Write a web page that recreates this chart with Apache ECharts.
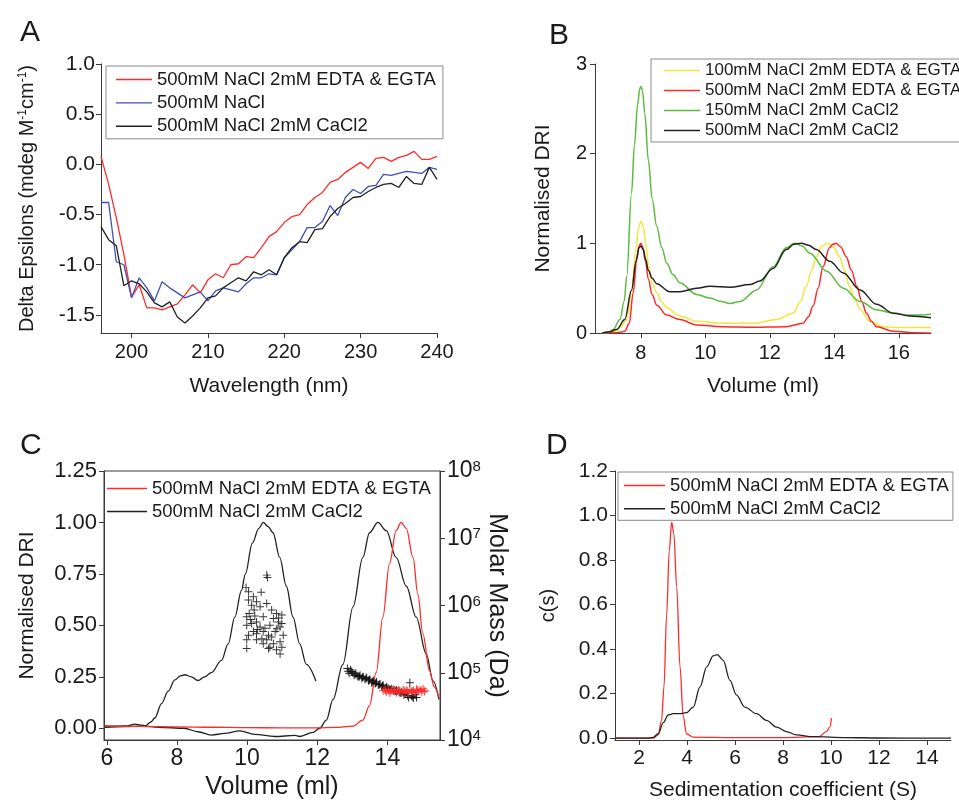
<!DOCTYPE html>
<html><head><meta charset="utf-8">
<script src="https://cdn.jsdelivr.net/npm/echarts@6/dist/echarts.min.js"></script>
<style>html,body{margin:0;padding:0;background:#fff}#c{width:959px;height:802px}</style>
</head><body><div id="c"></div>
<script>
// ---------- Panel A (CD spectra) ----------
const aWavelength = [196,197,198,199,200,201,202,203,204,205,206,207,208,209,210,211,212,213,214,215,216,217,218,219,220,221,222,223,224,225,226,227,228,229,230,231,232,233,234,235,236,237,238,239,240];
const aEdta  = [0.08,-0.2,-0.53,-0.9,-1.32,-1.2,-1.43,-1.43,-1.45,-1.42,-1.39,-1.30,-1.2,-1.28,-1.15,-1.09,-1.13,-1.0,-0.99,-0.92,-0.93,-0.83,-0.72,-0.67,-0.58,-0.52,-0.50,-0.40,-0.33,-0.28,-0.18,-0.15,-0.08,-0.03,0.02,-0.04,0.06,0.07,0.03,0.07,0.09,0.13,0.05,0.05,0.08];
const aNacl  = [-0.38,-0.38,-0.97,-1.0,-1.33,-1.13,-1.23,-1.36,-1.17,-1.23,-1.28,-1.33,-1.3,-1.27,-1.36,-1.26,-1.23,-1.25,-1.27,-1.19,-1.13,-1.13,-1.09,-1.1,-0.93,-0.85,-0.77,-0.63,-0.63,-0.57,-0.41,-0.51,-0.33,-0.25,-0.29,-0.22,-0.21,-0.10,-0.11,-0.09,-0.07,-0.08,-0.09,-0.03,-0.05];
const aCacl2 = [-0.62,-0.75,-0.81,-1.21,-1.16,-1.19,-1.27,-1.38,-1.42,-1.37,-1.52,-1.58,-1.51,-1.43,-1.33,-1.31,-1.23,-1.18,-1.13,-1.16,-1.07,-1.1,-1.05,-1.1,-0.93,-0.83,-0.77,-0.78,-0.65,-0.64,-0.52,-0.44,-0.39,-0.33,-0.32,-0.27,-0.23,-0.20,-0.19,-0.23,-0.12,-0.19,-0.20,-0.03,-0.15];
const aXTicks = [200,210,220,230,240];
const aYTicks = [-1.5,-1.0,-0.5,0.0,0.5,1.0];

// ---------- Panel B (SEC DRI) ----------
const bYellow = [[6.8,0],[7.0,0.005],[7.2,0.02],[7.35,0.06],[7.56,0.15],[7.71,0.45],[7.85,0.95],[7.93,1.18],[8.0,1.245],[8.07,1.19],[8.15,1.0],[8.23,0.77],[8.35,0.56],[8.49,0.45],[8.65,0.34],[8.8,0.28],[9.21,0.19],[9.73,0.13],[10.54,0.11],[11.58,0.11],[12.2,0.15],[12.72,0.22],[12.95,0.35],[13.13,0.52],[13.3,0.7],[13.44,0.85],[13.62,0.97],[13.8,1.0],[13.97,0.96],[14.16,0.85],[14.32,0.7],[14.47,0.52],[14.63,0.37],[14.8,0.26],[15.1,0.13],[15.52,0.07],[16.0,0.06],[17.0,0.06]];
const bRed = [[6.8,0],[7.2,0.003],[7.4,0.01],[7.5,0.02],[7.64,0.11],[7.76,0.45],[7.88,0.85],[7.94,0.97],[8.0,1.0],[8.06,0.96],[8.14,0.8],[8.23,0.6],[8.35,0.43],[8.49,0.31],[8.8,0.2],[9.21,0.15],[9.73,0.09],[10.54,0.07],[11.5,0.065],[12.5,0.07],[13.03,0.11],[13.2,0.18],[13.34,0.30],[13.5,0.5],[13.65,0.74],[13.85,0.95],[13.96,0.99],[14.06,1.0],[14.2,0.96],[14.37,0.85],[14.53,0.7],[14.7,0.52],[14.85,0.35],[15.0,0.22],[15.15,0.13],[15.31,0.07],[15.83,0.02],[16.5,0.003],[17.0,0.0]];
const bGreen = [[6.8,0],[7.0,0.01],[7.14,0.04],[7.35,0.15],[7.48,0.35],[7.56,0.63],[7.71,1.56],[7.8,2.1],[7.9,2.55],[7.96,2.72],[8.0,2.75],[8.05,2.7],[8.12,2.45],[8.23,1.93],[8.35,1.5],[8.49,1.19],[8.65,0.95],[8.8,0.78],[9.0,0.65],[9.21,0.56],[9.73,0.43],[10.14,0.39],[10.5,0.35],[10.76,0.33],[11.07,0.35],[11.59,0.48],[12.1,0.74],[12.51,0.95],[12.77,1.0],[13.0,0.97],[13.24,0.89],[13.76,0.69],[14.28,0.50],[14.8,0.35],[15.31,0.26],[15.83,0.22],[16.34,0.20],[17.0,0.21]];
const bBlack = [[6.8,0],[7.0,0.01],[7.25,0.04],[7.5,0.15],[7.71,0.48],[7.85,0.8],[7.94,0.95],[8.0,0.97],[8.07,0.93],[8.15,0.82],[8.23,0.70],[8.35,0.61],[8.49,0.55],[8.9,0.46],[9.21,0.46],[9.73,0.50],[10.14,0.52],[10.76,0.51],[11.38,0.54],[11.69,0.58],[12.1,0.72],[12.51,0.93],[12.75,0.99],[12.98,1.0],[13.2,0.98],[13.44,0.93],[13.86,0.80],[14.28,0.67],[14.8,0.48],[15.31,0.32],[15.83,0.22],[16.34,0.19],[17.0,0.17]];
const bXTicks = [8,10,12,14,16];
const bYTicks = [0,1,2,3];

// ---------- Panel C (SEC-MALLS) ----------
const cBlackHump = [[5.95,0.012],[6.3,0.01],[6.6,0.012],[6.8,0.02],[7.0,0.015],[7.1,0.012],[7.25,0.03],[7.37,0.05],[7.56,0.12],[7.75,0.18],[7.94,0.235],[8.1,0.255],[8.22,0.26],[8.41,0.25],[8.6,0.232],[8.79,0.25],[8.98,0.27],[9.27,0.33],[9.46,0.41],[9.65,0.54],[9.84,0.67],[9.95,0.75],[10.15,0.9],[10.33,0.97],[10.46,1.0],[10.6,0.98],[10.74,0.95],[10.93,0.83],[11.12,0.69],[11.31,0.54],[11.5,0.41],[11.69,0.31],[11.96,0.23]];
const cBlackMain = [[5.95,0.005],[6.5,0.008],[7.0,0.01],[7.5,0.005],[8.2,0.0],[8.6,-0.017],[8.98,-0.033],[9.36,-0.025],[9.79,-0.013],[10.22,-0.03],[10.79,-0.04],[11.36,-0.035],[11.5,-0.04],[11.88,-0.02],[12.07,0.0],[12.26,0.04],[12.45,0.14],[12.73,0.31],[13.02,0.59],[13.3,0.83],[13.49,0.95],[13.73,1.0],[13.97,0.96],[14.25,0.83],[14.54,0.69],[14.82,0.54],[15.11,0.36],[15.3,0.23],[15.47,0.14]];
const cRed = [[5.95,0.01],[7.0,0.009],[8.0,0.007],[9.0,0.005],[10.0,0.003],[11.0,0.002],[12.0,0.002],[12.5,0.004],[13.02,0.01],[13.3,0.04],[13.49,0.11],[13.68,0.27],[13.87,0.54],[14.06,0.80],[14.25,0.96],[14.39,1.0],[14.54,0.97],[14.73,0.83],[14.87,0.65],[15.01,0.46],[15.2,0.28],[15.34,0.2],[15.47,0.15]];
const cMassHump = [[10.56,2.83e6],[10.58,2.61e6],[9.97,1.86e6],[10.04,1.60e6],[10.40,1.57e6],[10.18,1.35e6],[10.04,1.21e6],[10.27,1.14e6],[10.13,1.01e6],[10.56,1.07e6],[10.37,9.6e5],[10.70,8.6e5],[10.20,8.6e5],[10.06,7.6e5],[10.84,7.6e5],[10.99,7.2e5],[9.99,6.8e5],[10.46,6.8e5],[10.75,6.4e5],[10.89,5.7e5],[10.27,5.7e5],[10.13,5.4e5],[9.99,5.1e5],[10.65,5.1e5],[10.99,5.4e5],[10.94,4.8e5],[10.37,4.8e5],[10.51,4.6e5],[10.18,4.1e5],[10.27,3.8e5],[10.46,4.1e5],[10.80,4.1e5],[10.04,3.6e5],[10.61,3.6e5],[10.70,3.4e5],[10.42,3.2e5],[10.56,3.1e5],[11.03,3.6e5],[10.94,2.9e5],[10.27,3.1e5],[9.99,3.1e5],[10.75,2.7e5],[10.65,2.4e5],[10.46,2.7e5],[10.99,2.4e5],[10.84,2.2e5],[9.99,2.3e5],[10.94,1.9e5],[10.61,2.3e5],[10.1,6.2e5],[10.22,7.0e5],[10.85,4.5e5],[10.3,4.4e5],[10.9,6.5e5]];
const cMassBlack = [[12.86,1.16e5],[12.91,9.8e4],[12.95,1.10e5],[13.01,1.00e5],[13.05,9.2e4],[13.10,9.8e4],[13.17,8.7e4],[13.22,9.2e4],[13.27,8.3e4],[13.31,8.7e4],[13.36,8.0e4],[13.41,8.5e4],[13.46,7.6e4],[13.50,8.0e4],[13.55,7.1e4],[13.60,7.6e4],[13.65,6.9e4],[13.69,7.3e4],[13.74,6.6e4],[13.79,6.8e4],[13.84,6.2e4],[13.88,6.5e4],[13.93,5.9e4],[13.98,6.2e4],[14.05,5.7e4],[14.12,5.8e4],[14.19,5.4e4],[14.26,5.5e4],[14.34,5.1e4],[14.41,5.2e4],[14.47,4.7e4],[14.53,4.9e4],[14.60,4.3e4],[14.64,7.1e4],[14.69,4.5e4],[14.74,4.2e4],[14.79,4.7e4],[14.83,4.3e4],[12.88,1.05e5],[12.98,1.04e5],[13.08,9.5e4],[13.14,9.0e4],[13.20,8.8e4],[13.29,8.6e4],[13.39,8.2e4],[13.48,7.8e4],[13.58,7.4e4],[13.67,7.0e4],[13.77,6.7e4],[13.86,6.4e4],[13.96,6.0e4],[14.02,5.9e4],[14.09,5.6e4],[14.16,5.6e4],[14.23,5.3e4],[14.30,5.3e4],[14.38,5.0e4],[14.50,4.8e4],[14.57,4.6e4],[14.72,4.4e4]];
const cMassRed = [[13.88,5.4e4],[13.93,5.7e4],[13.98,5.2e4],[14.03,5.5e4],[14.07,5.0e4],[14.12,5.7e4],[14.17,5.3e4],[14.22,5.5e4],[14.26,5.1e4],[14.31,5.6e4],[14.36,5.3e4],[14.41,5.0e4],[14.45,5.6e4],[14.50,5.2e4],[14.55,5.5e4],[14.60,5.0e4],[14.64,5.6e4],[14.69,5.3e4],[14.74,5.5e4],[14.79,5.1e4],[14.83,5.7e4],[14.88,5.3e4],[14.93,5.5e4],[14.98,5.2e4],[15.02,5.8e4],[15.07,5.4e4],[13.95,5.4e4],[14.10,5.3e4],[14.20,5.6e4],[14.34,5.4e4],[14.48,5.4e4],[14.58,5.3e4],[14.72,5.2e4],[14.86,5.5e4],[14.96,5.6e4],[15.05,5.2e4]];
const cXTicks = [6,8,10,12,14];
const cYTicks = [0,0.25,0.5,0.75,1.0,1.25];
const cMassTicks = [1e4,1e5,1e6,1e7,1e8];

// ---------- Panel D (AUC c(s)) ----------
const dRed = [[1,0],[2.59,0],[2.8,0.015],[2.94,0.08],[3.04,0.23],[3.15,0.55],[3.26,0.84],[3.36,0.97],[3.45,0.92],[3.57,0.68],[3.71,0.32],[3.84,0.10],[3.98,0.02],[4.26,0.005],[6,0.003],[8,0.003],[9.5,0.007],[9.81,0.03],[9.95,0.05],[10.02,0.09]];
const dBlack = [[1,0],[2.32,0],[2.59,0.004],[2.8,0.02],[3.01,0.07],[3.22,0.105],[3.43,0.11],[3.71,0.11],[3.98,0.115],[4.26,0.14],[4.54,0.23],[4.82,0.32],[5.09,0.37],[5.26,0.375],[5.51,0.35],[5.79,0.26],[6.06,0.195],[6.41,0.14],[6.9,0.11],[7.31,0.08],[7.73,0.05],[8.14,0.03],[8.56,0.015],[9.25,0.007],[10.64,0.003],[12.03,0.001],[15,0]];
const dXTicks = [2,4,6,8,10,12,14];
const dYTicks = [0,0.2,0.4,0.6,0.8,1.0,1.2];

const L_EDTA500 = '500mM NaCl 2mM EDTA & EGTA';
const L_NACL = '500mM NaCl';
const L_CACL500 = '500mM NaCl 2mM CaCl2';
const L_EDTA100 = '100mM NaCl 2mM EDTA & EGTA';
const L_CACL150 = '150mM NaCl 2mM CaCl2';

const FONT = '"Liberation Sans", Arial, Helvetica, sans-serif';
const INK = '#1a1a1a';
const AX = '#3a3a3a';
const RED = '#ff2a2a', BLUE = '#3f4fb8', BLACK = '#222222', YELLOW = '#efe83c', GREEN = '#5cba3e';

function axis(o) {
  const a = {
    type: o.type || 'value', gridIndex: o.grid, min: o.min, max: o.max,
    position: o.position,
    axisLine: {show: true, onZero: false, lineStyle: {color: AX, width: 1}},
    axisTick: {show: true, inside: false, length: o.tickLen || 5, customValues: o.ticks, lineStyle: {color: AX, width: 1}},
    axisLabel: {show: true, customValues: o.ticks, fontSize: o.fs, color: INK, fontFamily: FONT, margin: o.margin, formatter: o.fmt, rich: o.rich},
    splitLine: {show: false},
    name: o.name, nameLocation: 'middle', nameGap: o.gap, nameRotate: o.nameRotate,
    nameTextStyle: {fontSize: o.nfs, color: INK, fontFamily: FONT, rich: o.nrich}
  };
  if (o.logBase) a.logBase = o.logBase;
  return a;
}

const GRID = (l, t) => ({left: l, top: t, width: 336, height: 269, outerBoundsMode: 'none', containLabel: false});
const line = (name, data, color, xi, yi, smooth, w) => ({
  type: 'line', name, data, xAxisIndex: xi, yAxisIndex: yi, symbol: 'none', showSymbol: false,
  smooth: smooth ? 0.35 : false, smoothMonotone: smooth ? 'x' : undefined,
  lineStyle: {color, width: w || 1.3}, itemStyle: {color}, silent: true, animation: false, z: 3
});
const PLUS = 'path://M4.4,0H5.6V4.4H10V5.6H5.6V10H4.4V5.6H0V4.4H4.4Z';
const scatter = (data, color) => ({
  type: 'scatter', name: 'mass', data, xAxisIndex: 2, yAxisIndex: 3, symbol: PLUS, symbolSize: 8,
  itemStyle: {color, opacity: 0.9}, silent: true, animation: false, z: 4
});
const legend = (names, left, top, o) => Object.assign({
  data: names, left, top, orient: 'vertical', icon: 'rect', itemWidth: 36, itemHeight: 1.4, itemGap: 4,
  selectedMode: false, backgroundColor: '#fff',
  textStyle: {fontSize: 18.5, color: INK, fontFamily: FONT, lineHeight: 18}
}, o);

const chart = echarts.init(document.getElementById('c'), null, {renderer: 'canvas'});
const f1 = v => Number(v).toFixed(1), f2 = v => Number(v).toFixed(2), f0 = v => String(Math.round(v));

chart.setOption({
  backgroundColor: '#ffffff',
  animation: false,
  textStyle: {fontFamily: FONT},
  grid: [GRID(101, 64), GRID(595, 64),
         Object.assign(GRID(104, 471), {show: true, borderColor: AX, borderWidth: 1, backgroundColor: 'transparent'}),
         GRID(615, 471)],
  xAxis: [
    axis({grid: 0, min: 196, max: 240, ticks: aXTicks, fs: 20, margin: 9, fmt: f0, name: 'Wavelength (nm)', gap: 43, nfs: 21}),
    axis({grid: 1, min: 6.576, max: 17, ticks: bXTicks, fs: 20, margin: 10, fmt: f0, name: 'Volume (ml)', gap: 43, nfs: 21}),
    axis({grid: 2, min: 5.92, max: 15.5, ticks: cXTicks, fs: 23, margin: 7, fmt: f0, name: 'Volume (ml)', gap: 35, nfs: 25}),
    axis({grid: 3, min: 1, max: 15, ticks: dXTicks, fs: 21, margin: 8, fmt: f0, name: 'Sedimentation coefficient (S)', gap: 40, nfs: 21})
  ],
  yAxis: [
    axis({grid: 0, min: -1.68, max: 1.0, ticks: aYTicks, fs: 21, margin: 6, fmt: f1,
          name: 'Delta Epsilons (mdeg M{s|-1}cm{s|-1})', gap: 64, nfs: 20,
          nrich: {s: {fontSize: 12, verticalAlign: 'top', fontFamily: FONT, color: INK}}}),
    axis({grid: 1, min: 0, max: 3, ticks: bYTicks, fs: 20, margin: 8, fmt: f0, name: 'Normalised DRI', gap: 41, nfs: 21}),
    axis({grid: 2, min: -0.057, max: 1.25, ticks: cYTicks, fs: 22, margin: 7, fmt: f2, name: 'Normalised DRI', gap: 66, nfs: 21}),
    axis({grid: 2, type: 'log', logBase: 10, min: 1e4, max: 1e8, position: 'right', ticks: cMassTicks, fs: 23, margin: 7,
          fmt: v => '10{s|' + Math.round(Math.log10(v)) + '}',
          rich: {s: {fontSize: 15, verticalAlign: 'top', fontFamily: FONT, color: INK}},
          name: 'Molar Mass (Da)', gap: 42, nfs: 25, nameRotate: -90}),
    axis({grid: 3, min: -0.008, max: 1.2, ticks: dYTicks, fs: 21, margin: 7, fmt: f1, name: 'c(s)', gap: 57, nfs: 20})
  ],
  legend: [
    legend([L_EDTA500, L_NACL, L_CACL500], 106, 66, {padding: [4, 7, 3, 10], itemGap: 4.4, borderColor: '#8a8a8a', borderWidth: 1}),
    legend([L_EDTA100, L_EDTA500, L_CACL150, L_CACL500], 651, 59, {padding: [3, 2, 3, 13], itemGap: 3, borderColor: '#8a8a8a', borderWidth: 1, textStyle: {fontSize: 17, lineHeight: 17, color: INK, fontFamily: FONT}}),
    legend([L_EDTA500, L_CACL500], 107, 479, {padding: 0, itemGap: 4, itemWidth: 40, backgroundColor: 'transparent'}),
    legend([L_EDTA500, L_CACL500], 618, 472, {padding: [4, 4, 2, 6], itemGap: 4.3, itemWidth: 41, borderColor: '#8a8a8a', borderWidth: 1})
  ],
  graphic: [
    {type: 'text', left: 20, top: 18, style: {text: 'A', fontSize: 30, fill: INK, fontFamily: FONT}},
    {type: 'text', left: 549, top: 21, style: {text: 'B', fontSize: 30, fill: INK, fontFamily: FONT}},
    {type: 'text', left: 20, top: 431, style: {text: 'C', fontSize: 30, fill: INK, fontFamily: FONT}},
    {type: 'text', left: 546, top: 431, style: {text: 'D', fontSize: 30, fill: INK, fontFamily: FONT}}
  ],
  series: [
    line(L_EDTA500, aWavelength.map((w, i) => [w, aEdta[i]]), RED, 0, 0, false, 1.3),
    line(L_NACL, aWavelength.map((w, i) => [w, aNacl[i]]), BLUE, 0, 0, false, 1.3),
    line(L_CACL500, aWavelength.map((w, i) => [w, aCacl2[i]]), BLACK, 0, 0, false, 1.3),

    line(L_EDTA100, bYellow, YELLOW, 1, 1, true, 1.5),
    line(L_EDTA500, bRed, RED, 1, 1, true, 1.5),
    line(L_CACL150, bGreen, GREEN, 1, 1, true, 1.5),
    line(L_CACL500, bBlack, BLACK, 1, 1, true, 1.5),

    line(L_CACL500, cBlackHump, BLACK, 2, 2, true, 1.3),
    line(L_CACL500, cBlackMain, BLACK, 2, 2, true, 1.3),
    line(L_EDTA500, cRed, RED, 2, 2, true, 1.3),
    scatter(cMassHump, '#222'),
    scatter(cMassBlack, '#111'),
    scatter(cMassRed, RED),

    line(L_EDTA500, dRed, RED, 3, 4, true, 1.3),
    line(L_CACL500, dBlack, BLACK, 3, 4, true, 1.3)
  ]
});
</script></body></html>
